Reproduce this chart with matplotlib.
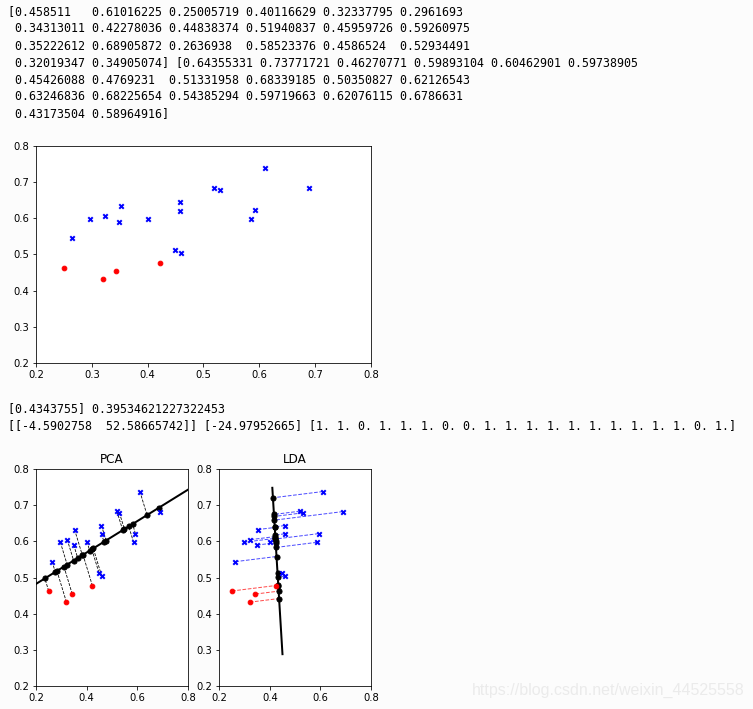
import numpy as np
import matplotlib
matplotlib.use('Agg')
import matplotlib.pyplot as plt

# ================= 数据 =================
# 西瓜数据集 3.0α: 密度, 含糖率
density = [0.458511, 0.61016225, 0.25005719, 0.40116629, 0.32337795, 0.2961693,
           0.34313011, 0.42278036, 0.44838374, 0.51940837, 0.45959726, 0.59260975,
           0.35222612, 0.68905872, 0.2636938, 0.58523376, 0.4586524, 0.52934491,
           0.32019347, 0.34905074]
sugar = [0.64355331, 0.73771721, 0.46270771, 0.59893104, 0.60462901, 0.59738905,
         0.45426088, 0.4769231, 0.51331958, 0.68339185, 0.50350827, 0.62126543,
         0.63246836, 0.68225654, 0.54385294, 0.59719663, 0.62076115, 0.6786631,
         0.43173504, 0.58964916]
labels = [1, 1, 0, 1, 1, 1, 0, 0, 1, 1, 1, 1, 1, 1, 1, 1, 1, 1, 0, 1]

# PCA 主方向直线 y = k*x + b
pca_k = 0.4343755
pca_b = 0.39534621227322453
# LDA 系数
lda_coef = [-4.5902758, 52.58665742]
lda_intercept = -24.97952665
lda_line_y = [0.288, 0.748]

text_block1 = [
    "[0.458511   0.61016225 0.25005719 0.40116629 0.32337795 0.2961693",
    " 0.34313011 0.42278036 0.44838374 0.51940837 0.45959726 0.59260975",
    " 0.35222612 0.68905872 0.2636938  0.58523376 0.4586524  0.52934491",
    " 0.32019347 0.34905074] [0.64355331 0.73771721 0.46270771 0.59893104 0.60462901 0.59738905",
    " 0.45426088 0.4769231  0.51331958 0.68339185 0.50350827 0.62126543",
    " 0.63246836 0.68225654 0.54385294 0.59719663 0.62076115 0.6786631",
    " 0.43173504 0.58964916]",
]
text_block2 = [
    "[0.4343755] 0.39534621227322453",
    "[[-4.5902758  52.58665742]] [-24.97952665] [1. 1. 0. 1. 1. 1. 0. 0. 1. 1. 1. 1. 1. 1. 1. 1. 1. 1. 0. 1.]",
]
watermark = "https://blog.csdn.net/weixin_44525558"

W, H = 753, 709
X = np.array(density)
Y = np.array(sugar)
lab = np.array(labels)
pos = lab == 1
neg = lab == 0


def project(px, py, x0, y0, dx, dy):
    # 点到直线 (x0,y0)+t*(dx,dy) 的正交投影
    t = ((px - x0) * dx + (py - y0) * dy) / (dx * dx + dy * dy)
    return x0 + t * dx, y0 + t * dy


def ax_rect(left, top, right, bottom):
    return [left / W, 1 - bottom / H, (right - left) / W, (bottom - top) / H]


def scatter_data(ax):
    ax.scatter(X[pos], Y[pos], marker='x', c='b', s=20, linewidths=2, zorder=4)
    ax.scatter(X[neg], Y[neg], marker='o', c='r', s=22, zorder=4)


fig = plt.figure(figsize=(W / 72, H / 72), dpi=72)
fig.patch.set_facecolor('#fcfcfc')

# 文本输出
for i, line in enumerate(text_block1):
    fig.text(8 / W, 1 - (12 + 17 * i) / H, line, family='DejaVu Sans Mono',
             fontsize=11.6, va='center', ha='left')
for i, line in enumerate(text_block2):
    fig.text(8 / W, 1 - (409 + 17 * i) / H, line, family='DejaVu Sans Mono',
             fontsize=11.6, va='center', ha='left')

# 原始数据散点图
ax0 = fig.add_axes(ax_rect(36, 145.7, 371, 363))
scatter_data(ax0)
ax0.set_xlim(0.2, 0.8)
ax0.set_ylim(0.2, 0.8)
ax0.set_xticks(np.arange(0.2, 0.81, 0.1))
ax0.set_yticks(np.arange(0.2, 0.81, 0.1))

# PCA
ax1 = fig.add_axes(ax_rect(36, 469, 188, 686))
lx = np.array([0.1, 0.9])
ax1.plot(lx, pca_k * lx + pca_b, color='k', lw=2, zorder=2)
qx, qy = project(X, Y, 0.0, pca_b, 1.0, pca_k)
for a, b, c, d in zip(X, Y, qx, qy):
    ax1.plot([a, c], [b, d], color='k', ls='--', lw=0.8, zorder=1)
ax1.scatter(qx, qy, c='k', s=26, zorder=3)
scatter_data(ax1)
ax1.set_xlim(0.2, 0.8)
ax1.set_ylim(0.2, 0.8)
ax1.set_xticks([0.2, 0.4, 0.6, 0.8])
ax1.set_yticks(np.arange(0.2, 0.81, 0.1))
ax1.set_title('PCA')

# LDA
ax2 = fig.add_axes(ax_rect(219.3, 469, 371, 686))
k = lda_coef[1] / lda_coef[0]
b0 = lda_intercept / lda_coef[0]
ly = np.array(lda_line_y)
ax2.plot((ly - b0) / k, ly, color='k', lw=2, zorder=2)
qx, qy = project(X, Y, 0.0, b0, 1.0, k)
for a, b, c, d, l in zip(X, Y, qx, qy, lab):
    ax2.plot([a, c], [b, d], color='b' if l == 1 else 'r', ls='--', lw=1,
             alpha=0.7, zorder=1)
ax2.scatter(qx, qy, c='k', s=26, zorder=3)
scatter_data(ax2)
ax2.set_xlim(0.2, 0.8)
ax2.set_ylim(0.2, 0.8)
ax2.set_xticks([0.2, 0.4, 0.6, 0.8])
ax2.set_yticks(np.arange(0.2, 0.81, 0.1))
ax2.set_title('LDA')

fig.text(745 / W, 1 - 690 / H, watermark, family='Liberation Sans', fontsize=16,
         color='#ebebeb', ha='right', va='center')

fig.savefig('out.png', dpi=72, facecolor=fig.get_facecolor())
